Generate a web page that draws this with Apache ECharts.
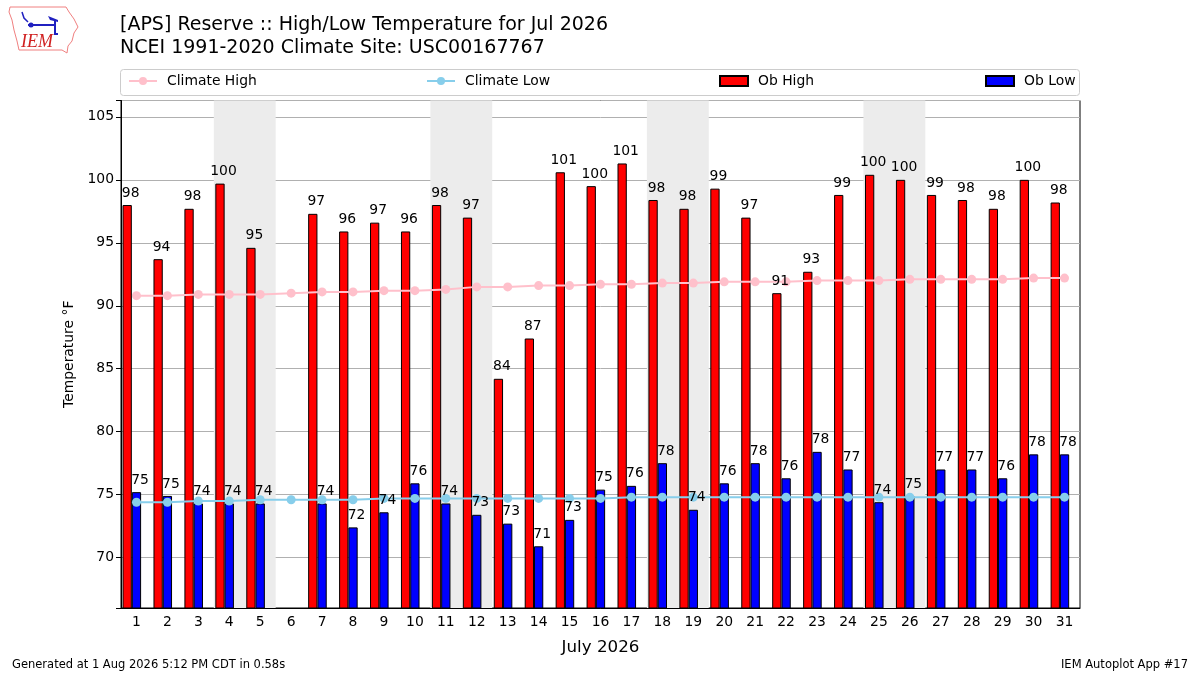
<!DOCTYPE html>
<html lang="en" style="height: 100%">
<head>
  <meta charset="utf-8">
</head>
<body style="height: 100%; margin: 0; background: #fff">
  <div id="container" style="width: 1200px; height: 675px"></div>
  <script type="text/javascript" src="https://fastly.jsdelivr.net/npm/echarts@6.0.0/dist/echarts.min.js"></script>
  <script type="text/javascript">
    // days of July 2026
    var days = ['1','2','3','4','5','6','7','8','9','10','11','12','13','14','15','16',
      '17','18','19','20','21','22','23','24','25','26','27','28','29','30','31'];
    // observed highs / lows (F), day 6 missing
    var obHigh = [98.0, 93.7, 97.7, 99.7, 94.6, null, 97.3, 95.9, 96.6, 95.9, 98.0, 97.0, 84.2, 87.4, 100.6, 99.5,
      101.3, 98.4, 97.7, 99.3, 97.0, 91.0, 92.7, 98.8, 100.4, 100.0, 98.8, 98.4, 97.7, 100.0, 98.2];
    var obLow = [75.2, 74.9, 74.3, 74.3, 74.3, null, 74.3, 72.4, 73.6, 75.9, 74.3, 73.4, 72.7, 70.9, 73.0, 75.4,
      75.7, 77.5, 73.8, 75.9, 77.5, 76.3, 78.4, 77.0, 74.4, 74.9, 77.0, 77.0, 76.3, 78.2, 78.2];
    // NCEI 1991-2020 daily climate
    var climHigh = [90.8, 90.8, 90.9, 90.9, 90.9, 91.0, 91.1, 91.1, 91.2, 91.2, 91.3, 91.5, 91.5, 91.6, 91.6, 91.7,
      91.7, 91.8, 91.8, 91.9, 91.9, 91.9, 92.0, 92.0, 92.0, 92.1, 92.1, 92.1, 92.1, 92.2, 92.2];
    var climLow = [74.4, 74.4, 74.5, 74.5, 74.6, 74.6, 74.6, 74.6, 74.7, 74.7, 74.7, 74.7, 74.7, 74.7, 74.7, 74.7,
      74.8, 74.8, 74.8, 74.8, 74.8, 74.8, 74.8, 74.8, 74.8, 74.8, 74.8, 74.8, 74.8, 74.8, 74.8];
    // weekends (Sat/Sun pairs)
    var weekends = [[4, 5], [11, 12], [18, 19], [25, 26]];

    var dom = document.getElementById('container');
    var myChart = echarts.init(dom, null, { renderer: 'canvas' });

    var font = 'DejaVu Sans';
    var fs = 13.9;
    var gridLeft = 121, gridRight = 120;
    // bar width = 30% of a day's band; high bar sits one bar-width left of the tick
    var barShift = (1200 - gridLeft - gridRight) / days.length * 0.3;

    function nullToDash(arr) {
      return arr.map(function (v) { return v == null ? '-' : v; });
    }

    // value labels drawn by scatter series so they sit above the climate lines
    function labelSeries(name, arr, dx) {
      return {
        name: name,
        type: 'scatter',
        data: nullToDash(arr),
        symbolSize: 0,
        z: 5,
        silent: true,
        itemStyle: { opacity: 1 },
        label: {
          show: true,
          position: 'top',
          distance: 5,
          offset: [dx, 0],
          color: '#000',
          opacity: 1,
          fontFamily: font,
          fontSize: fs,
          formatter: function (p) { return Math.round(p.value); }
        }
      };
    }

    var legendBase = {
      top: 74,
      padding: 0,
      itemWidth: 28,
      itemHeight: 10,
      textStyle: { fontFamily: font, fontSize: fs, color: '#000', padding: [0, 0, 0, 5] }
    };

    var option = {
      animation: false,
      backgroundColor: '#fff',
      title: {
        text: '[APS] Reserve :: High/Low Temperature for Jul 2026\nNCEI 1991-2020 Climate Site: USC00167767',
        left: 120,
        top: 14,
        padding: 0,
        textStyle: { fontFamily: font, fontSize: 19, fontWeight: 'normal', color: '#000', lineHeight: 23 }
      },
      legend: [
        Object.assign({}, legendBase, { left: 128, data: ['Climate High'] }),
        Object.assign({}, legendBase, { left: 426, data: ['Climate Low'] }),
        Object.assign({}, legendBase, { left: 719, data: [{ name: 'Ob High', icon: 'rect' }] }),
        Object.assign({}, legendBase, { left: 985, data: [{ name: 'Ob Low', icon: 'rect' }] })
      ],
      grid: {
        left: gridLeft,
        right: gridRight,
        top: 100.5,
        bottom: 67,
        show: true,
        borderColor: '#000',
        borderWidth: 1,
        backgroundColor: 'transparent'
      },
      xAxis: [
        {
          type: 'category',
          data: days,
          name: 'July 2026',
          nameLocation: 'middle',
          nameGap: 31,
          nameTextStyle: { fontFamily: font, fontSize: 16.7, color: '#000' },
          axisLine: { lineStyle: { color: '#000', width: 1 } },
          axisTick: { alignWithLabel: true, length: 5, lineStyle: { color: '#000' } },
          axisLabel: { fontFamily: font, fontSize: fs, color: '#000', margin: 7 },
          splitLine: { show: false }
        },
        {
          type: 'value',
          min: 0.5,
          max: 31.5,
          show: false
        }
      ],
      yAxis: {
        type: 'value',
        min: 66,
        max: 106.3,
        splitNumber: 8,
        minInterval: 5,
        maxInterval: 5,
        name: 'Temperature °F',
        nameLocation: 'middle',
        nameGap: 43,
        nameTextStyle: { fontFamily: font, fontSize: fs, color: '#000' },
        axisLine: { show: true, lineStyle: { color: '#000', width: 1 } },
        axisTick: { show: true, length: 5, lineStyle: { color: '#000' } },
        axisLabel: {
          fontFamily: font, fontSize: fs, color: '#000', margin: 7,
          formatter: function (v) { return Math.abs(v % 5) < 1e-6 ? v : ''; }
        },
        splitLine: { show: true, lineStyle: { color: '#b0b0b0', width: 1 } }
      },
      series: [
        {
          name: 'weekend',
          type: 'line',
          xAxisIndex: 1,
          data: [],
          z: -1,
          silent: true,
          markArea: {
            silent: true,
            itemStyle: { color: '#ececec' },
            data: weekends.map(function (w) {
              return [{ xAxis: w[0] - 0.5 }, { xAxis: w[1] + 0.5 }];
            })
          }
        },
        {
          name: 'Ob High',
          type: 'bar',
          data: nullToDash(obHigh),
          barWidth: '30%',
          barGap: '0%',
          itemStyle: { color: '#ff0000', borderColor: '#000', borderWidth: 1 }
        },
        {
          name: 'Ob Low',
          type: 'bar',
          data: nullToDash(obLow),
          barWidth: '30%',
          barGap: '0%',
          itemStyle: { color: '#0000ff', borderColor: '#000', borderWidth: 1 }
        },
        {
          // empty slot so the low bar sits on the tick, high bar to its left
          name: 'spacer',
          type: 'bar',
          data: days.map(function () { return '-'; }),
          barWidth: '30%',
          barGap: '0%',
          silent: true
        },
        {
          name: 'Climate High',
          type: 'line',
          data: climHigh,
          symbol: 'circle',
          symbolSize: 9,
          color: '#ffc0cb',
          lineStyle: { color: '#ffc0cb', width: 2 },
          itemStyle: { color: '#ffc0cb' }
        },
        {
          name: 'Climate Low',
          type: 'line',
          data: climLow,
          symbol: 'circle',
          symbolSize: 9,
          color: '#87ceeb',
          lineStyle: { color: '#87ceeb', width: 2 },
          itemStyle: { color: '#87ceeb' }
        },
        labelSeries('high labels', obHigh, -barShift + 3.5),
        labelSeries('low labels', obLow, 3.5)
      ],
      graphic: [
        // legend frame
        {
          type: 'rect',
          z: -10,
          shape: { x: 120.5, y: 69.5, width: 959, height: 26, r: 3 },
          style: { fill: '#fff', stroke: '#cccccc', lineWidth: 1 }
        },
        // IEM logo (approximation)
        {
          type: 'polyline',
          shape: {
            points: [[10, 7], [66, 7], [69, 12], [74, 19], [78, 27], [74, 33], [72, 41], [68, 46], [67, 53],
              [62, 50], [19, 50], [17, 41], [14, 30], [12, 20], [9, 12], [10, 7]]
          },
          style: { stroke: '#f08080', lineWidth: 1, fill: null }
        },
        {
          type: 'polyline',
          shape: { points: [[28, 25], [56, 25]] },
          style: { stroke: '#2020c0', lineWidth: 2, fill: null }
        },
        {
          type: 'polyline',
          shape: { points: [[22, 12], [24, 18], [28, 22]] },
          style: { stroke: '#2020c0', lineWidth: 1.5, fill: null }
        },
        {
          type: 'polygon',
          shape: { points: [[48, 16], [58, 20], [58, 22], [50, 20]] },
          style: { fill: '#2020c0' }
        },
        {
          type: 'polyline',
          shape: { points: [[55, 20], [55, 34], [58, 34]] },
          style: { stroke: '#2020c0', lineWidth: 2, fill: null }
        },
        {
          type: 'circle',
          shape: { cx: 31, cy: 25, r: 2.5 },
          style: { fill: '#2020c0' }
        },
        {
          type: 'text',
          left: 21,
          top: 33,
          style: { text: 'IEM', fontFamily: 'Liberation Serif', fontStyle: 'italic', fontSize: 18, fill: '#d02020' }
        },
        // footer
        {
          type: 'text',
          left: 12,
          top: 659,
          style: { text: 'Generated at 1 Aug 2026 5:12 PM CDT in 0.58s', fontFamily: font, fontSize: 11.5, fill: '#000' }
        },
        {
          type: 'text',
          right: 12,
          top: 659,
          style: { text: 'IEM Autoplot App #17', fontFamily: font, fontSize: 11.5, fill: '#000' }
        }
      ]
    };

    if (option && typeof option === 'object') {
      myChart.setOption(option);
    }

    window.addEventListener('resize', myChart.resize);
  </script>
</body>
</html>
